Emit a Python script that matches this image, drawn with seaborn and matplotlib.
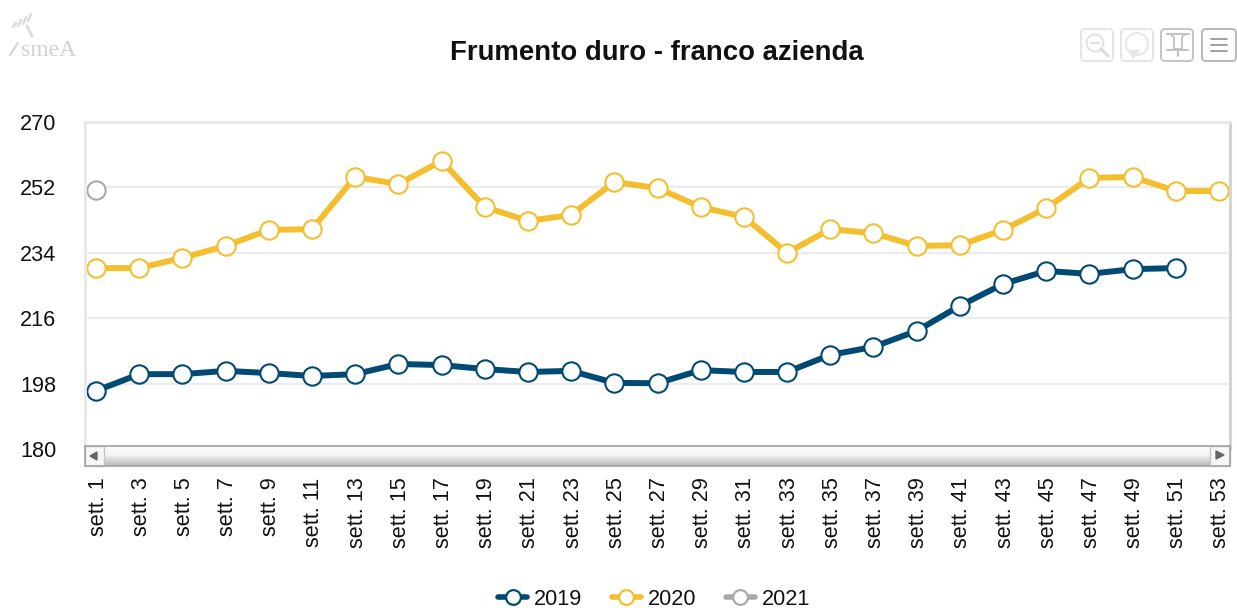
# -*- coding: utf-8 -*-
import numpy as np
import pandas as pd
import matplotlib
matplotlib.use('Agg')
import matplotlib.pyplot as plt
import seaborn as sns
from matplotlib.lines import Line2D
from matplotlib.patches import FancyBboxPatch, Rectangle, Circle, Polygon
from matplotlib.transforms import ScaledTranslation

weeks = list(range(1, 54, 2))
week_labels = [f"sett. {w}" for w in weeks]
y_ticks = [180, 198, 216, 234, 252, 270]

values_2019 = [196.0, 200.6, 200.6, 201.5, 200.9, 200.1, 200.6, 203.4, 203.1, 202.0,
               201.2, 201.5, 198.2, 198.1, 201.7, 201.2, 201.2, 205.9, 208.1, 212.5,
               219.4, 225.4, 229.0, 228.2, 229.5, 229.8]
values_2020 = [229.8, 229.8, 232.6, 235.9, 240.3, 240.5, 254.9, 252.9, 259.3, 246.6,
               242.8, 244.4, 253.5, 251.8, 246.6, 243.9, 234.0, 240.5, 239.4, 235.9,
               236.1, 240.3, 246.3, 254.6, 254.9, 251.0, 251.0]
values_2021 = [251.3]

COL_2019 = '#004a73'
COL_2020 = '#f4bf2f'
COL_2021 = '#a9a9a9'

W, H = 1237, 608

sns.set_theme(style='white')
plt.rcParams['font.family'] = ['Liberation Sans', 'DejaVu Sans']

df = pd.concat([
    pd.DataFrame({'week': weeks[:len(values_2019)], 'value': values_2019, 'year': '2019'}),
    pd.DataFrame({'week': weeks[:len(values_2020)], 'value': values_2020, 'year': '2020'}),
    pd.DataFrame({'week': weeks[:len(values_2021)], 'value': values_2021, 'year': '2021'}),
])
palette = {'2019': COL_2019, '2020': COL_2020, '2021': COL_2021}

fig = plt.figure(figsize=(W / 100, H / 100), dpi=100, facecolor='white')
ax = fig.add_axes([85 / W, 1 - 449 / H, (1230 - 85) / W, (449 - 122) / H])

sns.lineplot(data=df, x='week', y='value', hue='year', palette=palette, ax=ax,
             linewidth=4.3, marker='o', markersize=13.2, markerfacecolor='white',
             markeredgewidth=1.5, legend=False, sort=False, estimator=None)
for ln in ax.get_lines():
    ln.set_markeredgecolor(ln.get_color())
    ln.set_solid_capstyle('round')

ax.set_xlim(0.49, 53.51)
ax.set_ylim(180, 270)
ax.set_xlabel('')
ax.set_ylabel('')
ax.set_yticks(y_ticks)
ax.set_xticks(weeks)
ax.set_xticklabels(week_labels, rotation=90, fontsize=15.6, color='#111111')
ax.tick_params(axis='x', length=0, pad=20.5)
ax.tick_params(axis='y', length=0, pad=20.5, labelsize=15.6, labelcolor='#111111')
shift = ScaledTranslation(2 / 100, 0, fig.dpi_scale_trans)
for lab in ax.get_xticklabels():
    lab.set_va('top')
    lab.set_ha('center')
    lab.set_transform(lab.get_transform() + shift)

ax.set_axisbelow(True)
ax.grid(axis='y', color='#ececec', linewidth=1.6)
ax.spines['bottom'].set_visible(False)
for side in ['top', 'left']:
    ax.spines[side].set_color('#e8e8e8')
    ax.spines[side].set_linewidth(2)
ax.spines['right'].set_color('#d4d4d4')
ax.spines['right'].set_linewidth(2.2)

fig.text(657 / W, 1 - 53 / H, 'Frumento duro - franco azienda', ha='center', va='center',
         fontsize=19.8, fontweight='bold', color='#111111')

# legend
handles = [Line2D([], [], color=c, linewidth=4.0, marker='o', markersize=10.6,
                  markerfacecolor='white', markeredgecolor=c, markeredgewidth=1.6,
                  solid_capstyle='round')
           for c in [COL_2019, COL_2020, COL_2021]]
fig.legend(handles, ['2019', '2020', '2021'], loc='center', ncol=3,
           bbox_to_anchor=(654 / W, 1 - 599.5 / H), frameon=False, fontsize=15.6,
           handlelength=1.34, handletextpad=0.3, columnspacing=1.38, labelcolor='#111111',
           borderpad=0, borderaxespad=0)

# overlay in pixel coordinates for the page furniture
ov = fig.add_axes([0, 0, 1, 1], facecolor='none')
ov.axis('off')

# scrollbar
grad = np.concatenate([np.linspace(0.985, 0.96, 8), np.linspace(0.96, 0.72, 12)]).reshape(-1, 1)
ov.imshow(grad, extent=(104, 1210, 466, 446), cmap='gray', vmin=0, vmax=1, aspect='auto', zorder=3)
ov.add_patch(Rectangle((85, 446), 1145, 20, facecolor='none', edgecolor='#a8a8a8', linewidth=1.3, zorder=5))
for x0, wd in [(85, 19), (1210, 20)]:
    ov.add_patch(Rectangle((x0, 446), wd, 20, facecolor='#f7f7f7',
                           edgecolor='#c4c4c4', linewidth=1, zorder=4))
ov.add_patch(Polygon([[97, 452], [97, 460], [90, 456]], color='#666666', zorder=6))
ov.add_patch(Polygon([[1216, 451], [1216, 459], [1224, 455]], color='#666666', zorder=6))

# toolbar buttons
for x0, wd, ec in [(1081, 32, '#e6e6e6'), (1121, 32, '#e6e6e6'), (1161, 32, '#c4c4c4'), (1202, 34, '#b8b8b8')]:
    ov.add_patch(FancyBboxPatch((x0, 29), wd, 32, boxstyle='round,pad=0,rounding_size=4',
                                facecolor='white', edgecolor=ec, linewidth=1.4))
ov.add_patch(Circle((1095, 43), 8.5, fill=False, edgecolor='#e0e0e0', linewidth=1.3))
ov.plot([1091, 1099], [43, 43], color='#dddddd', lw=1.3)
ov.plot([1101, 1108], [49, 56], color='#dddddd', lw=2.2)
ov.add_patch(Circle((1137, 44), 11, fill=False, edgecolor='#e6e6e6', linewidth=1.3))
ov.add_patch(Polygon([[1130, 51], [1139, 50], [1133, 58]], color='#e6e6e6'))
ov.plot([1167, 1189], [34, 34], color='#c2c2c2', lw=1.5)
ov.add_patch(Polygon([[1170, 34], [1186, 34], [1182, 37], [1182, 49], [1174, 49], [1174, 37]],
                     facecolor='white', edgecolor='#c2c2c2', linewidth=1.3))
ov.plot([1167, 1188], [50, 50], color='#c2c2c2', lw=1.5)
ov.plot([1178, 1178], [50, 56], color='#c2c2c2', lw=1.5)
for yy in [39, 45, 51]:
    ov.plot([1211, 1227], [yy, yy], color='#9a9a9a', lw=1.3)

# logo
ov.text(49, 51, 'smeA', ha='center', va='center', fontsize=17, family='Liberation Serif', color='#d2d2d2')
ov.plot([10, 18], [55, 43], color='#d6d6d6', lw=1.6)
for x0, y0, n in [(13, 27, 4), (18, 26, 6), (23, 24, 7), (28, 21, 7)]:
    ov.plot([x0, x0 + 3], [y0, y0 - n], color='#dcdcdc', lw=1.8)
ov.plot([27, 32], [26, 36], color='#dcdcdc', lw=2.2)
ov.set_xlim(0, W)
ov.set_ylim(H, 0)

plt.savefig('out.png', dpi=100)
plt.close()
